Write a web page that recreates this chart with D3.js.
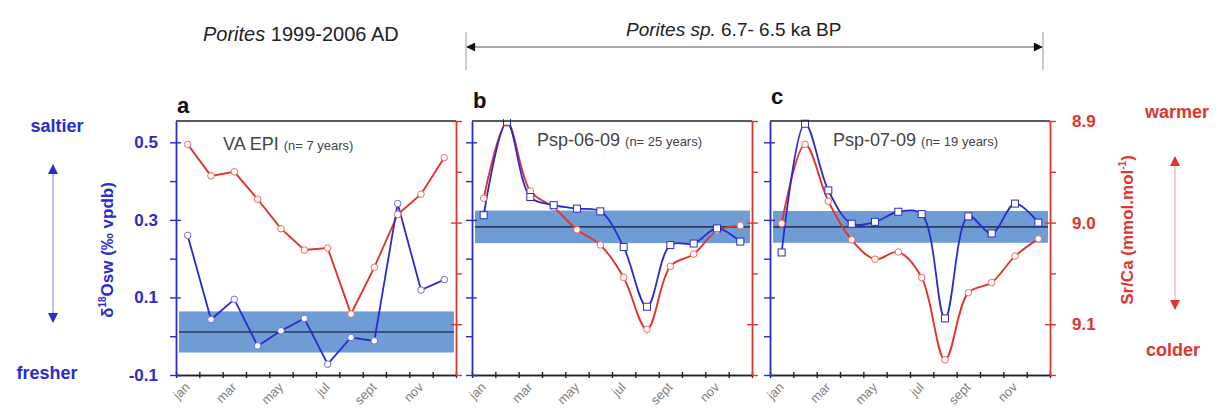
<!DOCTYPE html>
<head>
    <meta charset="UTF-8">
    <title>Porites d18Osw and Sr/Ca seasonal cycles</title>
</head>
<style>
    body { margin: 0; background: #fff; }
    svg { font-family: "Liberation Sans", Arial, sans-serif; }
</style>
<body>
<script src="https://d3js.org/d3.v7.min.js"></script>
<script>
    // data
    var months = ["jan", "feb", "mar", "apr", "may", "jun", "jul", "aug", "sep", "oct", "nov", "dec"];
    var monthLabels = ["jan", "", "mar", "", "may", "", "jul", "", "sept", "", "nov", ""];

    var panelLetters = ["a", "b", "c"];
    var panelNames = ["VA EPI", "Psp-06-09", "Psp-07-09"];
    var panelCounts = ["(n= 7 years)", "(n= 25 years)", "(n= 19 years)"];

    // d18O seawater (permil vpdb), blue series
    var d18oA = [0.26, 0.043, 0.095, -0.025, 0.014, 0.046, -0.072, -0.003, -0.012, 0.342, 0.119, 0.146];
    var d18oB = [0.312, 0.553, 0.359, 0.338, 0.329, 0.322, 0.230, 0.076, 0.235, 0.239, 0.278, 0.244];
    var d18oC = [0.216, 0.548, 0.376, 0.290, 0.295, 0.321, 0.315, 0.046, 0.309, 0.265, 0.342, 0.293];

    // Sr/Ca (mmol/mol), red series
    var srcaA = [8.923, 8.954, 8.950, 8.977, 9.006, 9.027, 9.025, 9.090, 9.044, 8.992, 8.972, 8.936];
    var srcaB = [8.976, 8.902, 8.969, 8.985, 9.007, 9.022, 9.054, 9.105, 9.043, 9.031, 9.008, 9.003];
    var srcaC = [9.001, 8.923, 8.979, 9.017, 9.036, 9.029, 9.054, 9.135, 9.069, 9.059, 9.033, 9.016];

    // mean d18Osw and its spread (shaded band)
    var bandMean = [0.011, 0.282, 0.282];
    var bandHalf = [0.053, 0.042, 0.041];

    var d18oTicks = [-0.1, 0, 0.1, 0.2, 0.3, 0.4, 0.5];
    var d18oLabels = [-0.1, 0.1, 0.3, 0.5];
    var srcaTicks = [8.9, 8.95, 9.0, 9.05, 9.1, 9.15];
    var srcaLabels = [8.9, 9.0, 9.1];

    var blue = "#2b2bcc", red = "#e0352f", bandColor = "#6e9dd6";

    var W = 1220, H = 412;
    var plotTop = 121, plotBottom = 375, pw = 280;
    var panelX = [176, 472, 770];

    // plain hyphen for negative numbers, as in the figure
    var fmt1 = d3.formatLocale({decimal: ".", thousands: ",", grouping: [3], currency: ["", ""], minus: "-"}).format(".1f");

    var svg = d3.select("body").append("svg")
        .attr("width", W)
        .attr("height", H);

    var yBlue = d3.scaleLinear().domain([-0.1, 0.555]).range([plotBottom, plotTop]);
    var yRed = d3.scaleLinear().domain([8.9, 9.15]).range([plotTop, plotBottom]);

    var defs = svg.append("defs");
    function arrowMarker(id, color, w, h) {
        defs.append("marker")
            .attr("id", id)
            .attr("viewBox", "0 0 10 10")
            .attr("refX", 9).attr("refY", 5)
            .attr("markerWidth", w).attr("markerHeight", h)
            .attr("markerUnits", "userSpaceOnUse")
            .attr("orient", "auto-start-reverse")
            .append("path")
            .attr("d", "M0,0L10,5L0,10Z")
            .attr("fill", color);
    }
    arrowMarker("arrK", "#111", 14, 9);
    arrowMarker("arrB", blue, 15, 10);
    arrowMarker("arrR", red, 15, 10);

    // top headings
    var h1 = svg.append("text").attr("x", 203).attr("y", 41)
        .attr("font-size", 20).attr("fill", "#222");
    h1.append("tspan").attr("font-style", "italic").text("Porites");
    h1.append("tspan").text(" 1999-2006 AD");

    var h2 = svg.append("text").attr("x", 626).attr("y", 36)
        .attr("font-size", 19).attr("fill", "#222");
    h2.append("tspan").attr("font-style", "italic").text("Porites sp.");
    h2.append("tspan").text(" 6.7- 6.5 ka BP");

    svg.append("line").attr("x1", 467).attr("x2", 1042).attr("y1", 47).attr("y2", 47)
        .attr("stroke", "#555").attr("stroke-width", 1)
        .attr("marker-start", "url(#arrK)").attr("marker-end", "url(#arrK)");
    [466, 1043].forEach(function(x) {
        svg.append("line").attr("x1", x).attr("x2", x).attr("y1", 32).attr("y2", 70)
            .attr("stroke", "#999").attr("stroke-width", 1);
    });

    var d18oSets = [d18oA, d18oB, d18oC];
    var srcaSets = [srcaA, srcaB, srcaC];

    panelX.forEach(function(x0, p) {
        var x = d3.scaleLinear().domain([0, 12]).range([x0, x0 + pw]);
        var g = svg.append("g");
        var clipId = "clip" + p;
        defs.append("clipPath").attr("id", clipId)
            .append("rect").attr("x", x0).attr("y", plotTop - 2).attr("width", pw).attr("height", plotBottom - plotTop + 4);

        // shaded band and mean line
        g.append("rect")
            .attr("x", x0 + 3).attr("width", pw - 5)
            .attr("y", yBlue(bandMean[p] + bandHalf[p]))
            .attr("height", yBlue(bandMean[p] - bandHalf[p]) - yBlue(bandMean[p] + bandHalf[p]))
            .attr("fill", bandColor);
        g.append("line")
            .attr("x1", x0 + 3).attr("x2", x0 + pw - 2)
            .attr("y1", yBlue(bandMean[p])).attr("y2", yBlue(bandMean[p]))
            .attr("stroke", "#2c3a5e").attr("stroke-width", 1.6);

        var curve = p === 0 ? d3.curveLinear : d3.curveCatmullRom.alpha(0.5);
        var red1 = d3.line().x(function(d, i) { return x(i + 0.5); }).y(function(d) { return yRed(d); }).curve(curve);
        var blue1 = d3.line().x(function(d, i) { return x(i + 0.5); }).y(function(d) { return yBlue(d); }).curve(curve);

        var lines = g.append("g").attr("clip-path", "url(#" + clipId + ")");
        lines.append("path").datum(srcaSets[p])
            .attr("d", red1).attr("fill", "none")
            .attr("stroke", red).attr("stroke-width", 1.9);
        lines.append("path").datum(d18oSets[p])
            .attr("d", blue1).attr("fill", "none")
            .attr("stroke", blue).attr("stroke-width", 1.8);

        lines.selectAll(".rdot").data(srcaSets[p]).enter().append("circle")
            .attr("cx", function(d, i) { return x(i + 0.5); })
            .attr("cy", function(d) { return yRed(d); })
            .attr("r", 3.3)
            .attr("fill", "#fff").attr("stroke", "#ee6a63").attr("stroke-width", 1);

        if (p === 0) {
            lines.selectAll(".bdot").data(d18oSets[p]).enter().append("circle")
                .attr("cx", function(d, i) { return x(i + 0.5); })
                .attr("cy", function(d) { return yBlue(d); })
                .attr("r", 3.3)
                .attr("fill", "#fff").attr("stroke", "#6a6ae0").attr("stroke-width", 1);
        } else {
            lines.selectAll(".bdot").data(d18oSets[p]).enter().append("rect")
                .attr("x", function(d, i) { return x(i + 0.5) - 3.5; })
                .attr("y", function(d) { return yBlue(d) - 3.5; })
                .attr("width", 7).attr("height", 7)
                .attr("fill", "#fff").attr("stroke", blue).attr("stroke-width", 1);
        }

        // frame: top black line
        g.append("line").attr("x1", x0).attr("x2", x0 + pw).attr("y1", plotTop).attr("y2", plotTop)
            .attr("stroke", "#222").attr("stroke-width", 1.6);

        // bottom month axis, ticks crossing the line
        var xAxisOut = d3.axisBottom(x).tickValues(d3.range(0, 13)).tickSizeInner(3).tickSizeOuter(0).tickFormat("");
        var xAxisIn = d3.axisTop(x).tickValues(d3.range(0, 13)).tickSizeInner(3).tickSizeOuter(0).tickFormat("");
        [xAxisOut, xAxisIn].forEach(function(ax) {
            var a = g.append("g").attr("transform", "translate(0," + plotBottom + ")").call(ax);
            a.select(".domain").attr("stroke", "#222").attr("stroke-width", 1.6);
            a.selectAll(".tick line").attr("stroke", "#222").attr("stroke-width", 1.4);
        });
        g.selectAll(".mlab").data(monthLabels).enter().append("text")
            .attr("transform", function(d, i) { return "translate(" + (x(i + 0.5) + 3) + "," + (plotBottom + 13) + ") rotate(-45)"; })
            .attr("text-anchor", "end")
            .attr("font-size", 13).attr("fill", "#808080")
            .text(function(d) { return d; });

        // left blue axis
        var bOut = d3.axisLeft(yBlue).tickValues(d18oTicks).tickSizeInner(6).tickSizeOuter(0)
            .tickFormat(function(d) { return p === 0 && d18oLabels.indexOf(d) >= 0 ? fmt1(d) : ""; })
            .tickPadding(12);
        var bIn = d3.axisRight(yBlue).tickValues(d18oLabels).tickSizeInner(5).tickSizeOuter(0).tickFormat("");
        var la = g.append("g").attr("transform", "translate(" + x0 + ",0)").call(bOut);
        var li = g.append("g").attr("transform", "translate(" + x0 + ",0)").call(bIn);
        li.select(".domain").remove();
        la.select(".domain").attr("stroke", blue).attr("stroke-width", 1.8);
        la.selectAll(".tick line").attr("stroke", blue).attr("stroke-width", 1.4);
        li.selectAll(".tick line").attr("stroke", blue).attr("stroke-width", 1.4);
        la.selectAll("text").attr("fill", blue).attr("font-size", 17).attr("font-weight", "bold")
            .attr("font-family", "Liberation Sans, Arial, sans-serif");

        // right red axis
        var rOut = d3.axisRight(yRed).tickValues(srcaTicks).tickSizeInner(6).tickSizeOuter(0)
            .tickFormat(function(d) { return p === 2 && srcaLabels.indexOf(d) >= 0 ? fmt1(d) : ""; })
            .tickPadding(16);
        var rIn = d3.axisLeft(yRed).tickValues(srcaLabels).tickSizeInner(5).tickSizeOuter(0).tickFormat("");
        var ra = g.append("g").attr("transform", "translate(" + (x0 + pw) + ",0)").call(rOut);
        var ri = g.append("g").attr("transform", "translate(" + (x0 + pw) + ",0)").call(rIn);
        ri.select(".domain").remove();
        ra.select(".domain").attr("stroke", red).attr("stroke-width", 1.8);
        ra.selectAll(".tick line").attr("stroke", red).attr("stroke-width", 1.4);
        ri.selectAll(".tick line").attr("stroke", red).attr("stroke-width", 1.4);
        ra.selectAll("text").attr("fill", red).attr("font-size", 17).attr("font-weight", "bold")
            .attr("font-family", "Liberation Sans, Arial, sans-serif");

        // panel letter and title
        g.append("text").attr("x", x0 + 1).attr("y", [113, 108, 104][p])
            .attr("font-size", 22).attr("font-weight", "bold").attr("fill", "#111")
            .text(panelLetters[p]);
        var titleX = [223, 537, 833][p];
        var t = g.append("text").attr("x", titleX).attr("y", p === 0 ? 150 : 146).attr("fill", "#444");
        t.append("tspan").attr("font-size", 18).text(panelNames[p] + " ");
        t.append("tspan").attr("font-size", 13).text(panelCounts[p]);
    });

    // left annotations
    svg.append("text").attr("x", 57).attr("y", 132).attr("text-anchor", "middle")
        .attr("font-size", 18).attr("font-weight", "bold").attr("fill", blue).text("saltier");
    svg.append("text").attr("x", 47).attr("y", 379).attr("text-anchor", "middle")
        .attr("font-size", 18).attr("font-weight", "bold").attr("fill", blue).text("fresher");
    svg.append("line").attr("x1", 53).attr("x2", 53).attr("y1", 165).attr("y2", 322)
        .attr("stroke", "#7b7be0").attr("stroke-width", 1)
        .attr("marker-start", "url(#arrB)").attr("marker-end", "url(#arrB)");

    var yl = svg.append("text")
        .attr("transform", "translate(113,250) rotate(-90)")
        .attr("text-anchor", "middle")
        .attr("font-size", 17).attr("font-weight", "bold").attr("fill", blue);
    yl.append("tspan").text("\u03B4");
    yl.append("tspan").attr("font-size", 10).attr("dy", -7).text("18");
    yl.append("tspan").attr("dy", 7).text("Osw (\u2030 vpdb)");

    // right annotations
    svg.append("text").attr("x", 1177).attr("y", 118).attr("text-anchor", "middle")
        .attr("font-size", 18).attr("font-weight", "bold").attr("fill", red).text("warmer");
    svg.append("text").attr("x", 1173).attr("y", 356).attr("text-anchor", "middle")
        .attr("font-size", 18).attr("font-weight", "bold").attr("fill", red).text("colder");
    svg.append("line").attr("x1", 1175).attr("x2", 1175).attr("y1", 157).attr("y2", 309)
        .attr("stroke", "#f09a96").attr("stroke-width", 1)
        .attr("marker-start", "url(#arrR)").attr("marker-end", "url(#arrR)");

    var rl = svg.append("text")
        .attr("transform", "translate(1133,230) rotate(-90)")
        .attr("text-anchor", "middle")
        .attr("font-size", 17).attr("font-weight", "bold").attr("fill", red);
    rl.append("tspan").text("Sr/Ca (mmol.mol");
    rl.append("tspan").attr("font-size", 10).attr("dy", -7).text("-1");
    rl.append("tspan").attr("dy", 7).text(")");
</script>
</body>
